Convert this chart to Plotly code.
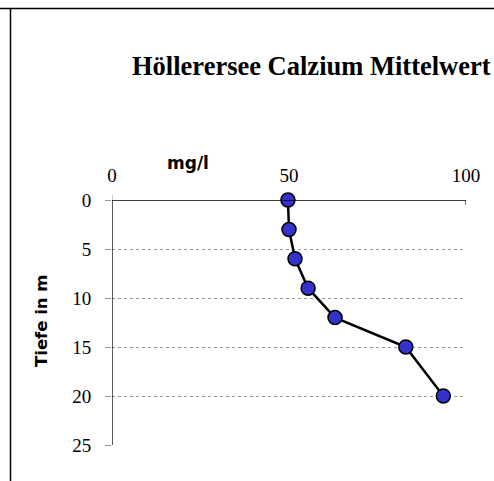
import plotly.graph_objects as go

depth_m = [0, 3, 6, 9, 12, 15, 20]
calcium_mg_l = [49.7, 50.0, 51.7, 55.4, 63.0, 83.0, 93.6]
x_ticks = [0, 50, 100]
y_ticks = [0, 5, 10, 15, 20, 25]

W, H = 494, 481
L_pg, R_pg, T_pg, B_pg = 112, 466, 200, 445  # plot area in page pixels
L, T = L_pg, T_pg
R, B = W - R_pg, H - B_pg
pw, ph = R_pg - L_pg, B_pg - T_pg

def px_x(p):
    return (p - L_pg) / pw

def px_y(p):
    return (B_pg - p) / ph

fig = go.Figure()
fig.add_trace(go.Scatter(
    x=calcium_mg_l, y=depth_m, mode="lines+markers",
    line=dict(color="black", width=2.5),
    marker=dict(size=14, color="#3333CC", line=dict(color="black", width=1.5)),
    showlegend=False, cliponaxis=False,
))

fig.update_layout(
    width=W, height=H,
    margin=dict(l=L, r=R, t=T, b=B, pad=0),
    paper_bgcolor="white", plot_bgcolor="white",
    xaxis=dict(
        side="top", range=[0, 100], tickvals=x_ticks,
        showgrid=False, zeroline=False, showline=False,
        ticks="", tickfont=dict(family="Liberation Serif", size=19, color="black"),
        ticklabelstandoff=13,
    ),
    yaxis=dict(
        range=[25, 0], tickvals=y_ticks,
        showgrid=True, gridcolor="#999999", griddash="dot", gridwidth=1,
        zeroline=False, showline=False,
        ticks="outside", ticklen=6, tickcolor="#999999",
        tickfont=dict(family="Liberation Serif", size=19, color="black"),
        ticklabelstandoff=10,
    ),
    shapes=[
        dict(type="line", xref="x", yref="y", x0=0, x1=100, y0=0, y1=0,
             line=dict(color="black", width=1.3)),
        dict(type="line", xref="x", yref="y", x0=0, x1=0, y0=0, y1=25,
             line=dict(color="black", width=1.3)),
        dict(type="line", xref="x", yref="paper", x0=0, x1=0, y0=1, y1=px_y(195),
             line=dict(color="#999999", width=1)),
        dict(type="line", xref="x", yref="paper", x0=100, x1=100, y0=1, y1=px_y(205),
             line=dict(color="black", width=1)),
        dict(type="line", xref="paper", yref="paper", x0=px_x(0), x1=px_x(W),
             y0=px_y(8.5), y1=px_y(8.5), line=dict(color="black", width=1.5)),
        dict(type="line", xref="paper", yref="paper", x0=px_x(10.5), x1=px_x(10.5),
             y0=px_y(8.5), y1=px_y(H), line=dict(color="black", width=1.5)),
    ],
    annotations=[
        dict(text="<b>Höllerersee Calzium Mittelwert</b>", xref="paper", yref="paper",
             x=px_x(311), y=px_y(66), showarrow=False,
             xanchor="center", yanchor="middle",
             font=dict(family="Liberation Serif", size=26.5, color="black")),
        dict(text="<b>mg/l</b>", xref="paper", yref="paper",
             x=px_x(188), y=px_y(163), showarrow=False,
             xanchor="center", yanchor="middle",
             font=dict(family="DejaVu Sans", size=17, color="black")),
        dict(text="<b>Tiefe in m</b>", xref="paper", yref="paper",
             x=px_x(41), y=px_y(321), showarrow=False, textangle=-90,
             xanchor="center", yanchor="middle",
             font=dict(family="DejaVu Sans", size=16.5, color="black")),
    ],
)

fig.write_html(
    "out.html",
    config={"displayModeBar": False},
    post_script="document.body.style.margin='0';document.body.style.overflow='hidden';",
)
